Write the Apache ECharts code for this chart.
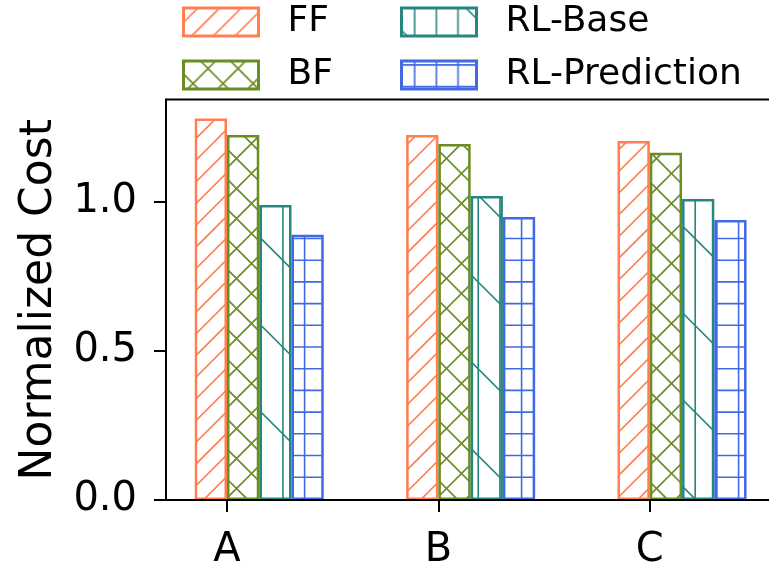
<!DOCTYPE html>
<html>
<head>
    <meta charset="utf-8">
    <title>Normalized Cost</title>
    <script src="https://cdn.jsdelivr.net/npm/echarts@6/dist/echarts.min.js"></script>
    <style>
        html, body { margin: 0; padding: 0; background: #fff; }
    </style>
</head>
<body>
<div id="main" style="width: 769px;height:564px;"></div>
<script type="text/javascript">
    // data
    var categories = ['A', 'B', 'C'];
    var seriesNames = ['FF', 'BF', 'RL-Base', 'RL-Prediction'];
    var ffValues = [1.28, 1.225, 1.205];
    var bfValues = [1.225, 1.195, 1.165];
    var rlBaseValues = [0.99, 1.02, 1.01];
    var rlPredValues = [0.89, 0.95, 0.94];
    var yTicks = [0, 0.5, 1.0];
    var yMax = 1.344;

    var colors = ['#ff7f50', '#6b8e23', '#26877f', '#4169e1'];
    var font = 'DejaVu Sans';

    // layout (px)
    var plotLeft = 166, plotTop = 99.5, plotBottom = 500, plotRight = 773.6;
    var tick0 = 227, step = 211.4, barW = 32.25;

    // hatch tiles, anchored to the canvas origin
    function tile(size, draw) {
        var c = document.createElement('canvas');
        c.width = size; c.height = size;
        var ctx = c.getContext('2d');
        ctx.lineWidth = 1.6;
        ctx.lineCap = 'butt';
        draw(ctx, size);
        return c;
    }
    function diagUp(ctx, size, p, a, color) {      // lines x + y = a + k p
        ctx.strokeStyle = color;
        ctx.beginPath();
        for (var c = a - 2 * size; c < 3 * size; c += p) {
            ctx.moveTo(c + 10, -10);
            ctx.lineTo(c - size - 10, size + 10);
        }
        ctx.stroke();
    }
    function diagDown(ctx, size, p, b, color) {    // lines y - x = b + k p
        ctx.strokeStyle = color;
        ctx.beginPath();
        for (var c = b - 2 * size; c < 3 * size; c += p) {
            ctx.moveTo(-10, c - 10);
            ctx.lineTo(size + 10, c + size + 10);
        }
        ctx.stroke();
    }
    function vert(ctx, size, p, a, color) {
        ctx.strokeStyle = color;
        ctx.beginPath();
        for (var x = a - p; x < size + p; x += p) {
            ctx.moveTo(x, 0);
            ctx.lineTo(x, size);
        }
        ctx.stroke();
    }
    function horiz(ctx, size, p, a, color) {
        ctx.strokeStyle = color;
        ctx.beginPath();
        for (var y = a - p; y < size + p; y += p) {
            ctx.moveTo(0, y);
            ctx.lineTo(size, y);
        }
        ctx.stroke();
    }

    var tiles = [
        tile(217, function (ctx, s) { diagUp(ctx, s, 21.7, 9, colors[0]); }),
        tile(60, function (ctx, s) {
            diagUp(ctx, s, 30, 5, colors[1]);
            diagDown(ctx, s, 30, 12, colors[1]);
        }),
        tile(434, function (ctx, s) {
            vert(ctx, s, 21.7, 0.8, colors[2]);
            diagDown(ctx, s, 86.8, 64.3, colors[2]);
        }),
        tile(217, function (ctx, s) {
            vert(ctx, s, 21.7, 0.8, colors[3]);
            horiz(ctx, s, 21.7, 21.5, colors[3]);
        })
    ];
    // pattern fill; ox/oy shift it back to canvas origin inside translated groups
    function pattern(i, ox, oy) {
        return {image: tiles[i], repeat: 'repeat', x: -(ox || 0), y: -(oy || 0)};
    }

    var values = [ffValues, bfValues, rlBaseValues, rlPredValues];

    var myChart = echarts.init(document.getElementById('main'), null, {renderer: 'canvas'});

    var legendPos = [[182, 4], [182, 57], [400, 4], [400, 57]];
    var legends = seriesNames.map(function (name, i) {
        return {
            data: [name],
            left: legendPos[i][0],
            top: legendPos[i][1],
            padding: 0,
            itemWidth: 75,
            itemHeight: 28,
            icon: 'rect',
            selectedMode: false,
            itemStyle: {
                color: pattern(i, legendPos[i][0], legendPos[i][1] + 4),
                borderColor: colors[i],
                borderWidth: 3
            },
            textStyle: {fontFamily: font, fontSize: 36, color: '#000', padding: [0, 0, 0, 24]}
        };
    });

    var option = {
        animation: false,
        backgroundColor: '#fff',
        legend: legends,
        grid: [
            {
                left: plotLeft, top: plotTop,
                width: plotRight - plotLeft, height: plotBottom - plotTop,
                outerBoundsMode: 'none',
                show: true, borderColor: '#000', borderWidth: 2,
                backgroundColor: 'transparent'
            },
            {
                left: tick0 + barW - step / 2, top: plotTop,
                width: step * categories.length, height: plotBottom - plotTop,
                outerBoundsMode: 'none'
            }
        ],
        xAxis: [
            {
                gridIndex: 0, type: 'value',
                min: (plotLeft - tick0) / step,
                max: (plotRight - tick0) / step,
                z: 10,
                axisLine: {show: true, onZero: false, lineStyle: {color: '#000', width: 2}},
                axisTick: {show: true, length: 12, lineStyle: {color: '#000', width: 2}, customValues: [0, 1, 2]},
                axisLabel: {
                    customValues: [0, 1, 2], margin: 31,
                    fontFamily: font, fontSize: 40, color: '#000',
                    formatter: function (v) { return categories[Math.round(v)]; }
                },
                splitLine: {show: false}
            },
            {
                gridIndex: 1, type: 'category', data: categories,
                show: false
            }
        ],
        yAxis: [
            {
                gridIndex: 0, type: 'value', min: 0, max: yMax,
                z: 10,
                name: 'Normalized Cost',
                nameLocation: 'middle',
                nameGap: 104,
                nameTextStyle: {fontFamily: font, fontSize: 44, color: '#000'},
                axisLine: {show: true, onZero: false, lineStyle: {color: '#000', width: 2}},
                axisTick: {show: true, length: 12, lineStyle: {color: '#000', width: 2}, customValues: yTicks},
                axisLabel: {
                    customValues: yTicks, margin: 29,
                    fontFamily: font, fontSize: 40, color: '#000',
                    formatter: function (v) { return v.toFixed(1); }
                },
                splitLine: {show: false}
            },
            {
                gridIndex: 1, type: 'value', min: 0, max: yMax,
                show: false, splitLine: {show: false}
            }
        ],
        series: seriesNames.map(function (name, i) {
            return {
                name: name,
                type: 'bar',
                xAxisIndex: 1,
                yAxisIndex: 1,
                barWidth: barW,
                barGap: '0%',
                data: values[i],
                itemStyle: {
                    color: pattern(i),
                    borderColor: colors[i],
                    borderWidth: 2.5
                }
            };
        })
    };

    myChart.setOption(option);
</script>
</body>
</html>
